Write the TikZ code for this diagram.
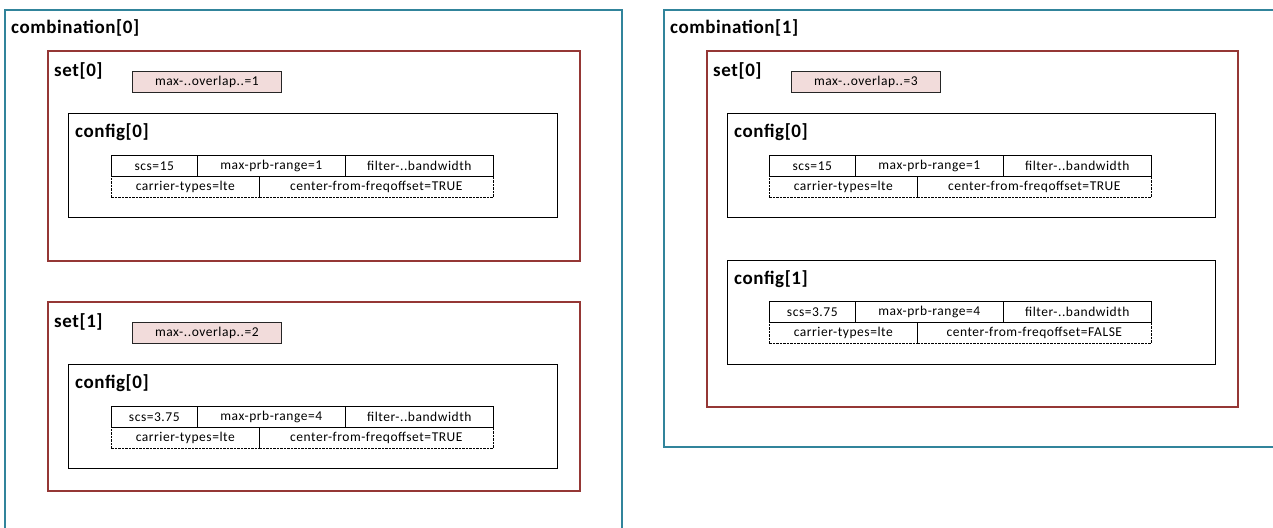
\documentclass[tikz,border=0pt]{standalone}
\usepackage{fontspec}
\setmainfont{Carlito}
\usetikzlibrary{shadows}
\definecolor{combocol}{RGB}{49,132,155}
\definecolor{setcol}{RGB}{149,55,53}
\definecolor{pinkcol}{RGB}{242,220,219}
\newcommand{\titlefont}{\fontsize{19}{22}\selectfont\bfseries\addfontfeature{LetterSpace=3}}
\newcommand{\tabfont}{\fontsize{13.5}{15}\selectfont\addfontfeature{LetterSpace=4}}
\newcommand{\cfgtable}[6]{%
  \node[dcell, minimum width=148] (#1ct) at (#2,#3+21) {carrier-types=lte};
  \node[dcell, minimum width=234] (#1cf) at (#2+148,#3+21) {center-from-freqoffset=#6};
  \node[cell, minimum width=86] (#1scs) at (#2,#3) {scs=#4};
  \node[cell, minimum width=148] (#1prb) at (#2+86,#3) {max-prb-range=#5};
  \node[cell, minimum width=148] (#1flt) at (#2+234,#3) {filter-..bandwidth};
}
\begin{document}
\begin{tikzpicture}[x=1pt,y=-1pt,
  combo/.style={draw=combocol, line width=2pt, anchor=north west, inner sep=0},
  setbox/.style={draw=setcol, line width=2pt, anchor=north west, inner sep=0},
  cfgbox/.style={draw=black, fill=white, line width=0.8pt, anchor=north west, inner sep=0,
    drop shadow={shadow xshift=1pt, shadow yshift=-1pt, fill=black!35, opacity=1}},
  maxbox/.style={draw=black!85, fill=pinkcol, line width=0.7pt, anchor=north west,
    minimum width=149, minimum height=21, inner sep=0, font=\tabfont},
  cell/.style={draw=black, line width=0.6pt, anchor=north west, minimum height=21,
    inner sep=0, font=\tabfont},
  dcell/.style={cell, dash pattern=on 2.5pt off 1pt},
  title/.style={anchor=base west, font=\titlefont, inner sep=0},
]
\useasboundingbox[fill=white] (0,0) rectangle (1273,527);

% ---------- combination[0] ----------
\node[combo, minimum width=617, minimum height=540] (comb0) at (4,9) {};
\node[title] (comb0lbl) at (11,34) {combination[0]};

\node[setbox, minimum width=532, minimum height=210] (c0s0) at (47,50) {};
\node[title] (c0s0lbl) at (54,77) {set[0]};
\node[maxbox] (c0s0max) at (132,71) {max-..overlap..=1};
\node[cfgbox, minimum width=489, minimum height=104] (c0s0c0) at (68,113) {};
\node[title] (c0s0c0lbl) at (75,137) {config[0]};
\cfgtable{c0s0c0t}{111}{155}{15}{1}{TRUE}

\node[setbox, minimum width=532, minimum height=189] (c0s1) at (47,301) {};
\node[title] (c0s1lbl) at (54,327) {set[1]};
\node[maxbox] (c0s1max) at (132,322) {max-..overlap..=2};
\node[cfgbox, minimum width=489, minimum height=104] (c0s1c0) at (68,364) {};
\node[title] (c0s1c0lbl) at (75,388) {config[0]};
\cfgtable{c0s1c0t}{111}{406}{3.75}{4}{TRUE}

% ---------- combination[1] ----------
\node[combo, minimum width=620, minimum height=437] (comb1) at (663,9) {};
\node[title] (comb1lbl) at (670,34) {combination[1]};

\node[setbox, minimum width=531, minimum height=356] (c1s0) at (706,50) {};
\node[title] (c1s0lbl) at (713,77) {set[0]};
\node[maxbox] (c1s0max) at (791,71) {max-..overlap..=3};
\node[cfgbox, minimum width=488, minimum height=104] (c1s0c0) at (727,113) {};
\node[title] (c1s0c0lbl) at (734,137) {config[0]};
\cfgtable{c1s0c0t}{769}{155}{15}{1}{TRUE}
\node[cfgbox, minimum width=488, minimum height=104] (c1s0c1) at (727,260) {};
\node[title] (c1s0c1lbl) at (734,284) {config[1]};
\cfgtable{c1s0c1t}{769}{301}{3.75}{4}{FALSE}
\end{tikzpicture}
\end{document}
